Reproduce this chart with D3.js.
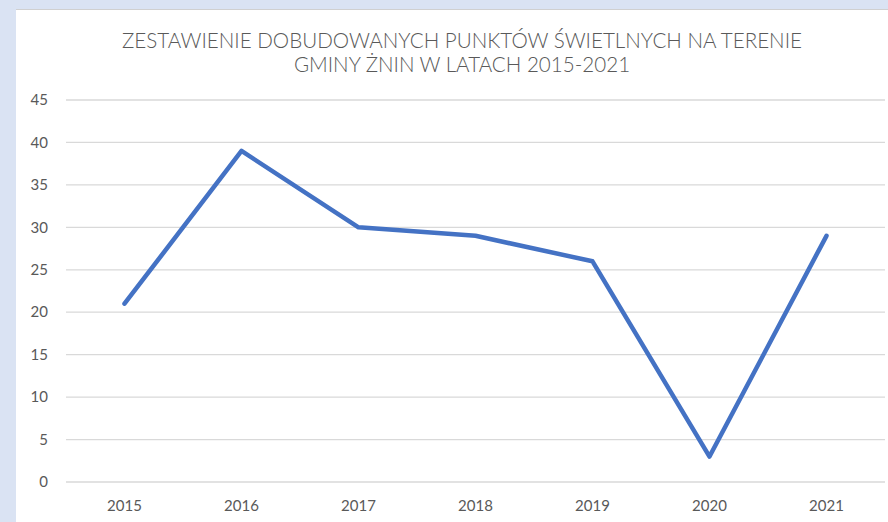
<!DOCTYPE html>
<html>
<head>
<meta charset="utf-8">
<script src="https://cdn.jsdelivr.net/npm/d3@7"></script>
<style>
  html, body { margin: 0; padding: 0; background: #dae3f3; }
  svg { display: block; }
</style>
</head>
<body>
<svg id="chart" width="888" height="522"></svg>
<script>
const years = ['2015', '2016', '2017', '2018', '2019', '2020', '2021'];
const values = [21, 39, 30, 29, 26, 3, 29];
const yTicks = [0, 5, 10, 15, 20, 25, 30, 35, 40, 45];
const titleLines = ['ZESTAWIENIE DOBUDOWANYCH PUNKTÓW ŚWIETLNYCH NA TERENIE', 'GMINY ŻNIN W LATACH 2015-2021'];

const svg = d3.select('#chart');
const width = 888;
const height = 522;
const margin = { top: 100, right: 3, bottom: 40, left: 66 };
const innerWidth = width - margin.left - margin.right;
const innerHeight = 482 - margin.top;

// chart area
svg.append('rect')
    .attr('x', 16).attr('y', 9)
    .attr('width', width - 16).attr('height', height - 9)
    .attr('fill', '#ffffff');
svg.append('line')
    .attr('x1', 16).attr('x2', width)
    .attr('y1', 9.5).attr('y2', 9.5)
    .attr('stroke', '#d0d0d0');

svg.selectAll('.title')
    .data(titleLines)
    .join('text')
    .attr('class', 'title')
    .attr('x', 462)
    .attr('y', (d, i) => 48 + i * 24)
    .attr('text-anchor', 'middle')
    .attr('font-family', 'Lato, sans-serif')
    .attr('font-weight', 300)
    .attr('font-size', '20.6px')
    .attr('fill', '#595959')
    .text(d => d);

const x = d3.scaleBand()
    .domain(years)
    .range([margin.left, margin.left + innerWidth])
    .padding(0);

const y = d3.scaleLinear()
    .domain([0, 45])
    .range([margin.top + innerHeight, margin.top]);

// gridlines
svg.append('g')
    .selectAll('line')
    .data(yTicks)
    .join('line')
    .attr('x1', margin.left)
    .attr('x2', margin.left + innerWidth)
    .attr('y1', d => y(d))
    .attr('y2', d => y(d))
    .attr('stroke', '#d9d9d9')
    .attr('stroke-width', 1.3);

// y labels
svg.append('g')
    .selectAll('text')
    .data(yTicks)
    .join('text')
    .attr('x', margin.left - 18)
    .attr('y', d => y(d))
    .attr('dy', '0.35em')
    .attr('text-anchor', 'end')
    .attr('font-family', 'Lato, sans-serif')
    .attr('font-size', '15px')
    .attr('fill', '#595959')
    .text(d => d);

// x labels
svg.append('g')
    .selectAll('text')
    .data(years)
    .join('text')
    .attr('x', d => x(d) + x.bandwidth() / 2)
    .attr('y', y(0) + 29)
    .attr('text-anchor', 'middle')
    .attr('font-family', 'Lato, sans-serif')
    .attr('font-size', '15px')
    .attr('fill', '#595959')
    .text(d => d);

svg.append('path')
    .datum(values)
    .attr('fill', 'none')
    .attr('stroke', '#4472c4')
    .attr('stroke-width', 4.5)
    .attr('stroke-linejoin', 'round')
    .attr('stroke-linecap', 'round')
    .attr('d', d3.line()
        .x((d, i) => x(years[i]) + x.bandwidth() / 2)
        .y(d => y(d)));
</script>
</body>
</html>
